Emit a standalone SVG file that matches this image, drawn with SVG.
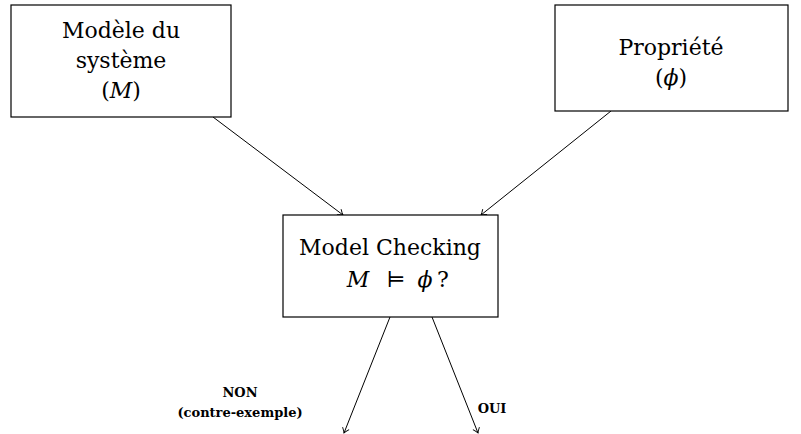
<svg xmlns="http://www.w3.org/2000/svg" width="801" height="434" viewBox="0 0 801 434">
<style>
.box{fill:#fff;stroke:#000;stroke-width:1.2}
.t{font-family:'DejaVu Serif',serif;font-size:22px;fill:#000;text-anchor:middle}
.m{font-style:italic}
.l{font-family:'DejaVu Serif',serif;font-size:13px;font-weight:bold;fill:#000;text-anchor:middle}
.c{stroke:#000;stroke-width:1;fill:none}
</style>
<defs>
<marker id="ar" viewBox="-6 -5 8 10" refX="0" refY="0" markerWidth="8" markerHeight="10" markerUnits="userSpaceOnUse" orient="auto">
<path d="M-5,-3.5 Q-2,-1 0,0 Q-2,1 -5,3.5" fill="none" stroke="#000" stroke-width="0.9"/>
</marker>
</defs>
<g id="connectors">
<line class="c" x1="213" y1="117" x2="343" y2="215" marker-end="url(#ar)"/>
<line class="c" x1="611" y1="111" x2="481" y2="215" marker-end="url(#ar)"/>
<line class="c" x1="390" y1="317" x2="344" y2="433" marker-end="url(#ar)"/>
<line class="c" x1="432" y1="317" x2="478" y2="433" marker-end="url(#ar)"/>
<text class="l" x="240" y="397">NON</text>
<text class="l" x="240" y="417">(contre-exemple)</text>
<text class="l" x="492" y="413">OUI</text>
</g>
<g id="modele">
<rect class="box" x="11" y="5" width="220" height="112"/>
<text class="t" x="121" y="38">Modèle du</text>
<text class="t" x="121" y="68">système</text>
<text class="t" x="121" y="98">(<tspan class="m">M</tspan>)</text>
</g>
<g id="propriete">
<rect class="box" x="555" y="5" width="233" height="106"/>
<text class="t" x="671" y="55">Propriété</text>
<text class="t" x="671" y="85">(<tspan class="m">ϕ</tspan>)</text>
</g>
<g id="checking">
<rect class="box" x="283" y="215" width="215" height="102"/>
<text class="t" x="390" y="255">Model Checking</text>
<text class="t" y="287"><tspan class="m" x="358">M</tspan><tspan x="396">⊨</tspan><tspan class="m" x="425">ϕ</tspan><tspan x="443">?</tspan></text>
</g>
</svg>
